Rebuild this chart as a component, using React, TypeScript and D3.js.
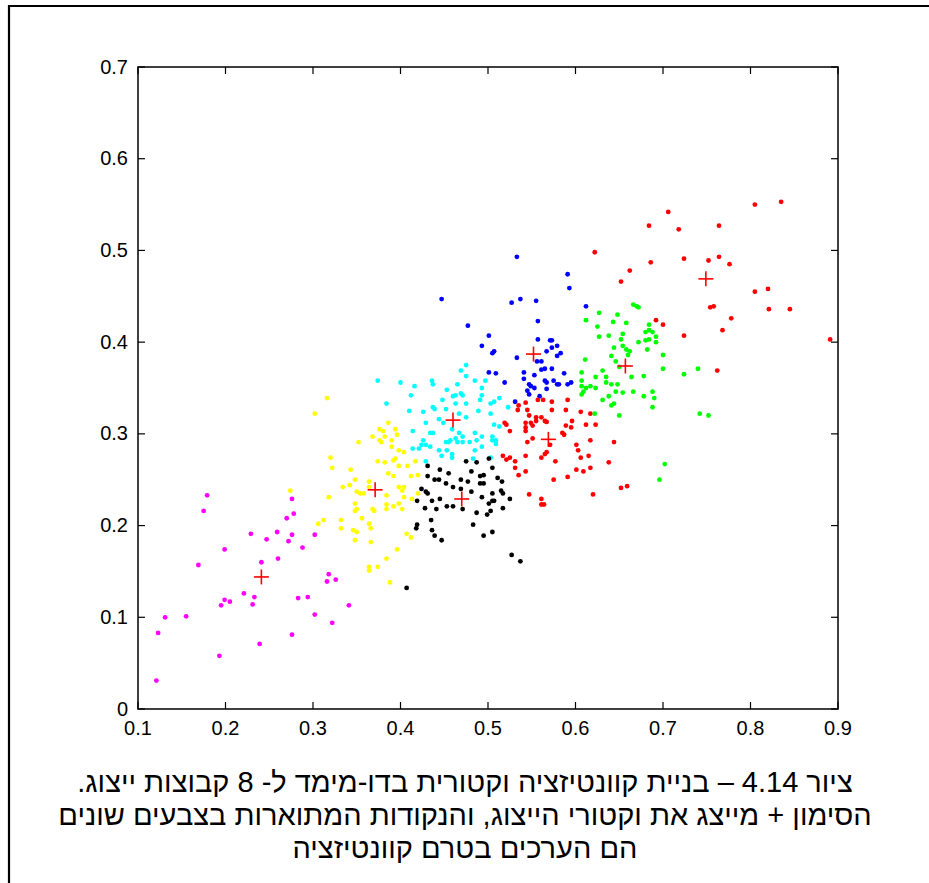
import React from 'react';
import * as d3 from 'd3';

// cluster points, [x, y]
const magenta = [
  [0.179, 0.233], [0.175, 0.216], [0.199, 0.174], [0.169, 0.157], [0.229, 0.191], [0.247, 0.185],
  [0.259, 0.193], [0.241, 0.160], [0.260, 0.164], [0.276, 0.229], [0.278, 0.213], [0.270, 0.208],
  [0.276, 0.190], [0.272, 0.183], [0.288, 0.176], [0.302, 0.190], [0.318, 0.147], [0.316, 0.139],
  [0.326, 0.141], [0.221, 0.126], [0.233, 0.122], [0.231, 0.114], [0.199, 0.119], [0.205, 0.117],
  [0.195, 0.113], [0.283, 0.121], [0.294, 0.122], [0.302, 0.103], [0.322, 0.094], [0.341, 0.113],
  [0.276, 0.081], [0.239, 0.071], [0.193, 0.058], [0.155, 0.101], [0.131, 0.100], [0.123, 0.083],
  [0.121, 0.031],
];

const yellow = [
  [0.274, 0.238], [0.316, 0.339], [0.302, 0.322], [0.386, 0.312], [0.376, 0.305], [0.380, 0.303],
  [0.394, 0.305], [0.368, 0.297], [0.382, 0.297], [0.396, 0.299], [0.376, 0.293], [0.378, 0.291],
  [0.390, 0.293], [0.352, 0.291], [0.390, 0.286], [0.404, 0.280], [0.398, 0.282], [0.320, 0.274],
  [0.322, 0.263], [0.374, 0.270], [0.382, 0.269], [0.394, 0.273], [0.392, 0.271], [0.417, 0.270],
  [0.398, 0.265], [0.408, 0.265], [0.386, 0.257], [0.392, 0.254], [0.412, 0.254], [0.420, 0.255],
  [0.343, 0.261], [0.348, 0.250], [0.342, 0.244], [0.334, 0.242], [0.364, 0.248], [0.364, 0.242],
  [0.398, 0.242], [0.404, 0.242], [0.402, 0.238], [0.404, 0.231], [0.420, 0.235], [0.413, 0.229],
  [0.350, 0.237], [0.354, 0.235], [0.358, 0.235], [0.318, 0.231], [0.384, 0.233], [0.348, 0.224],
  [0.350, 0.218], [0.348, 0.216], [0.384, 0.223], [0.384, 0.218], [0.392, 0.221], [0.398, 0.224],
  [0.402, 0.218], [0.368, 0.218], [0.370, 0.216], [0.356, 0.208], [0.364, 0.202], [0.366, 0.197],
  [0.346, 0.195], [0.350, 0.193], [0.348, 0.184], [0.366, 0.182], [0.332, 0.206], [0.332, 0.197],
  [0.312, 0.206], [0.306, 0.202], [0.407, 0.191], [0.412, 0.187], [0.396, 0.174], [0.384, 0.164],
  [0.374, 0.155], [0.364, 0.155], [0.364, 0.151], [0.388, 0.138],
];

const cyan = [
  [0.475, 0.375], [0.469, 0.369], [0.475, 0.363], [0.374, 0.358], [0.400, 0.356], [0.416, 0.352],
  [0.436, 0.358], [0.437, 0.354], [0.465, 0.354], [0.485, 0.358], [0.497, 0.358], [0.493, 0.350],
  [0.453, 0.348], [0.412, 0.342], [0.463, 0.342], [0.460, 0.341], [0.469, 0.344], [0.471, 0.342],
  [0.493, 0.342], [0.448, 0.337], [0.491, 0.337], [0.475, 0.333], [0.463, 0.333], [0.384, 0.333],
  [0.437, 0.329], [0.439, 0.327], [0.452, 0.327], [0.426, 0.324], [0.410, 0.325], [0.489, 0.325],
  [0.503, 0.333], [0.507, 0.335], [0.513, 0.339], [0.523, 0.329], [0.467, 0.322], [0.475, 0.318],
  [0.503, 0.322], [0.429, 0.312], [0.444, 0.316], [0.449, 0.312], [0.507, 0.310], [0.513, 0.308],
  [0.459, 0.305], [0.414, 0.303], [0.434, 0.301], [0.437, 0.301], [0.467, 0.301], [0.485, 0.301],
  [0.471, 0.297], [0.493, 0.297], [0.487, 0.293], [0.505, 0.297], [0.505, 0.293], [0.509, 0.293],
  [0.509, 0.289], [0.426, 0.293], [0.424, 0.288], [0.429, 0.288], [0.434, 0.286], [0.421, 0.284],
  [0.414, 0.284], [0.452, 0.291], [0.455, 0.291], [0.457, 0.293], [0.463, 0.295], [0.465, 0.291],
  [0.471, 0.291], [0.479, 0.291], [0.493, 0.286], [0.444, 0.282], [0.453, 0.282], [0.459, 0.278],
  [0.459, 0.274], [0.447, 0.276], [0.485, 0.282], [0.429, 0.270], [0.483, 0.273], [0.503, 0.274],
];

const black = [
  [0.475, 0.270], [0.487, 0.269], [0.501, 0.273], [0.431, 0.265], [0.445, 0.261], [0.455, 0.257],
  [0.481, 0.259], [0.505, 0.263], [0.495, 0.255], [0.491, 0.254], [0.511, 0.252], [0.431, 0.254],
  [0.439, 0.250], [0.444, 0.250], [0.452, 0.246], [0.460, 0.242], [0.469, 0.250], [0.477, 0.248],
  [0.491, 0.246], [0.495, 0.246], [0.424, 0.240], [0.429, 0.237], [0.431, 0.235], [0.445, 0.229],
  [0.436, 0.227], [0.419, 0.227], [0.469, 0.240], [0.481, 0.237], [0.493, 0.231], [0.505, 0.235],
  [0.515, 0.238], [0.517, 0.235], [0.505, 0.227], [0.501, 0.224], [0.507, 0.227], [0.525, 0.229],
  [0.471, 0.218], [0.453, 0.221], [0.460, 0.221], [0.428, 0.219], [0.441, 0.218], [0.487, 0.214],
  [0.503, 0.216], [0.499, 0.212], [0.517, 0.219], [0.435, 0.206], [0.483, 0.201], [0.419, 0.201],
  [0.418, 0.197], [0.436, 0.195], [0.439, 0.189], [0.447, 0.184], [0.495, 0.189], [0.505, 0.193],
  [0.527, 0.168], [0.537, 0.161], [0.407, 0.132], [0.516, 0.248],
];

const blue = [
  [0.533, 0.493], [0.591, 0.474], [0.593, 0.459], [0.447, 0.447], [0.527, 0.443], [0.537, 0.447],
  [0.555, 0.445], [0.612, 0.439], [0.477, 0.418], [0.557, 0.423], [0.501, 0.407], [0.493, 0.396],
  [0.507, 0.390], [0.505, 0.388], [0.557, 0.403], [0.571, 0.402], [0.573, 0.402], [0.579, 0.396],
  [0.567, 0.390], [0.573, 0.394], [0.583, 0.388], [0.579, 0.385], [0.533, 0.383], [0.556, 0.379],
  [0.561, 0.379], [0.565, 0.371], [0.561, 0.370], [0.573, 0.371], [0.541, 0.367], [0.553, 0.364],
  [0.587, 0.366], [0.501, 0.367], [0.509, 0.366], [0.541, 0.360], [0.565, 0.358], [0.575, 0.358],
  [0.579, 0.354], [0.581, 0.354], [0.591, 0.354], [0.595, 0.356], [0.519, 0.356], [0.547, 0.354],
  [0.549, 0.352], [0.553, 0.350], [0.567, 0.356], [0.567, 0.349], [0.545, 0.347], [0.547, 0.343],
  [0.559, 0.341], [0.531, 0.335],
];

const redLow = [
  [0.557, 0.337], [0.563, 0.337], [0.573, 0.335], [0.591, 0.337], [0.543, 0.334], [0.535, 0.331],
  [0.534, 0.326], [0.545, 0.326], [0.573, 0.326], [0.589, 0.326], [0.606, 0.324], [0.617, 0.322],
  [0.547, 0.320], [0.555, 0.318], [0.555, 0.314], [0.561, 0.318], [0.565, 0.314], [0.567, 0.313],
  [0.543, 0.312], [0.549, 0.312], [0.519, 0.312], [0.521, 0.310], [0.612, 0.310], [0.623, 0.310],
  [0.596, 0.314], [0.589, 0.309], [0.595, 0.307], [0.543, 0.307], [0.551, 0.309], [0.525, 0.303],
  [0.543, 0.303], [0.585, 0.301], [0.587, 0.299], [0.551, 0.295], [0.545, 0.291], [0.571, 0.288],
  [0.617, 0.293], [0.644, 0.291], [0.601, 0.288], [0.603, 0.282], [0.567, 0.280], [0.565, 0.278],
  [0.561, 0.274], [0.543, 0.276], [0.517, 0.276], [0.521, 0.272], [0.525, 0.274], [0.531, 0.270],
  [0.606, 0.274], [0.615, 0.276], [0.577, 0.270], [0.638, 0.269], [0.531, 0.263], [0.543, 0.259],
  [0.535, 0.255], [0.601, 0.261], [0.609, 0.259], [0.617, 0.263], [0.591, 0.253], [0.575, 0.250],
  [0.652, 0.241], [0.659, 0.243], [0.547, 0.234], [0.561, 0.229], [0.561, 0.223], [0.564, 0.223],
  [0.620, 0.234],
];

const green = [
  [0.666, 0.441], [0.670, 0.439], [0.672, 0.438], [0.627, 0.432], [0.648, 0.430], [0.612, 0.424],
  [0.643, 0.422], [0.658, 0.421], [0.625, 0.417], [0.684, 0.419], [0.680, 0.411], [0.684, 0.413],
  [0.688, 0.411], [0.638, 0.407], [0.627, 0.406], [0.654, 0.409], [0.652, 0.403], [0.692, 0.406],
  [0.684, 0.403], [0.680, 0.402], [0.672, 0.400], [0.692, 0.400], [0.654, 0.396], [0.658, 0.392],
  [0.662, 0.390], [0.644, 0.394], [0.682, 0.392], [0.660, 0.386], [0.641, 0.385], [0.700, 0.386],
  [0.646, 0.379], [0.611, 0.381], [0.650, 0.373], [0.700, 0.371], [0.631, 0.369], [0.607, 0.367],
  [0.724, 0.365], [0.740, 0.371], [0.678, 0.363], [0.664, 0.362], [0.623, 0.362], [0.635, 0.362],
  [0.607, 0.358], [0.635, 0.356], [0.641, 0.354], [0.648, 0.354], [0.617, 0.352], [0.612, 0.350],
  [0.623, 0.350], [0.607, 0.352], [0.609, 0.346], [0.607, 0.343], [0.646, 0.346], [0.654, 0.345],
  [0.666, 0.346], [0.688, 0.346], [0.678, 0.341], [0.690, 0.339], [0.638, 0.341], [0.631, 0.337],
  [0.644, 0.333], [0.641, 0.331], [0.688, 0.329], [0.650, 0.320], [0.622, 0.322], [0.742, 0.322],
  [0.752, 0.320], [0.702, 0.267], [0.696, 0.250],
];

const redHigh = [
  [0.805, 0.550], [0.835, 0.553], [0.706, 0.542], [0.684, 0.527], [0.718, 0.523], [0.764, 0.527],
  [0.622, 0.498], [0.686, 0.487], [0.724, 0.491], [0.752, 0.489], [0.764, 0.493], [0.776, 0.485],
  [0.662, 0.478], [0.652, 0.466], [0.805, 0.455], [0.820, 0.458], [0.754, 0.438], [0.758, 0.439],
  [0.821, 0.436], [0.845, 0.436], [0.778, 0.426], [0.768, 0.413], [0.692, 0.424], [0.700, 0.419],
  [0.724, 0.407], [0.891, 0.403], [0.762, 0.369],
];

// codebook vectors (+ markers)
const centroids = [
  [0.241, 0.144], [0.371, 0.239], [0.460, 0.315], [0.470, 0.229],
  [0.552, 0.387], [0.569, 0.294], [0.657, 0.374], [0.749, 0.469],
];

const groups = [
  { pts: magenta, color: '#ff00ff' },
  { pts: yellow, color: '#ffff00' },
  { pts: cyan, color: '#00ffff' },
  { pts: black, color: '#000000' },
  { pts: blue, color: '#0000ff' },
  { pts: redLow, color: '#ff0000' },
  { pts: green, color: '#00ff00' },
  { pts: redHigh, color: '#ff0000' },
];

const xTicks = [0.1, 0.2, 0.3, 0.4, 0.5, 0.6, 0.7, 0.8, 0.9];
const yTicks = [0, 0.1, 0.2, 0.3, 0.4, 0.5, 0.6, 0.7];

const captionLines = [
  'ציור 4.14 – בניית קוונטיזציה וקטורית בדו-מימד ל- 8 קבוצות ייצוג.',
  'הסימון + מייצג את וקטורי הייצוג, והנקודות המתוארות בצבעים שונים',
  'הם הערכים בטרם קוונטיזציה',
];

export default function App() {
  const width = 929;
  const height = 883;
  const left = 138, right = 838, top = 67, bottom = 709;

  const x = d3.scaleLinear().domain([0.1, 0.9]).range([left, right]);
  const y = d3.scaleLinear().domain([0, 0.7]).range([bottom, top]);
  const tick = 7;
  const font = 'Liberation Sans, Arial, sans-serif';

  return (
    <svg width={width} height={height} style={{ position: 'absolute', left: 0, top: 0, background: '#fff' }}>
      <rect x={0} y={0} width={width} height={height} fill="#fff" />
      {/* outer frame */}
      <path d={`M9,${height + 5} V6 H${width + 5}`} fill="none" stroke="#000" strokeWidth={2.2} />

      {groups.map((g, gi) => (
        <g key={gi} fill={g.color}>
          {g.pts.map((p, i) => (
            <circle key={i} cx={x(p[0])} cy={y(p[1])} r={2.4} />
          ))}
        </g>
      ))}

      <g stroke="#ff0000" strokeWidth={1.6}>
        {centroids.map((c, i) => (
          <g key={i}>
            <line x1={x(c[0]) - 7.5} x2={x(c[0]) + 7.5} y1={y(c[1])} y2={y(c[1])} />
            <line x1={x(c[0])} x2={x(c[0])} y1={y(c[1]) - 7.5} y2={y(c[1]) + 7.5} />
          </g>
        ))}
      </g>

      {/* axes box */}
      <rect x={left} y={top} width={right - left} height={bottom - top} fill="none" stroke="#000" strokeWidth={1.5} />
      <g stroke="#000" strokeWidth={1.2}>
        {xTicks.map((t) => (
          <g key={t}>
            <line x1={x(t)} x2={x(t)} y1={bottom} y2={bottom - tick} />
            <line x1={x(t)} x2={x(t)} y1={top} y2={top + tick} />
          </g>
        ))}
        {yTicks.map((t) => (
          <g key={t}>
            <line x1={left} x2={left + tick} y1={y(t)} y2={y(t)} />
            <line x1={right} x2={right - tick} y1={y(t)} y2={y(t)} />
          </g>
        ))}
      </g>
      <g fontFamily={font} fontSize={20} fill="#000">
        {xTicks.map((t) => (
          <text key={t} x={x(t)} y={bottom + 26} textAnchor="middle">{String(t)}</text>
        ))}
        {yTicks.map((t) => (
          <text key={t} x={left - 10} y={y(t) + 6.5} textAnchor="end">{String(t)}</text>
        ))}
      </g>

      <g fontFamily={font} fontSize={29} fill="#000">
        {captionLines.map((line, i) => (
          <text key={i} x={465} y={792 + i * 33} textAnchor="middle" direction="rtl">{line}</text>
        ))}
      </g>
    </svg>
  );
}
